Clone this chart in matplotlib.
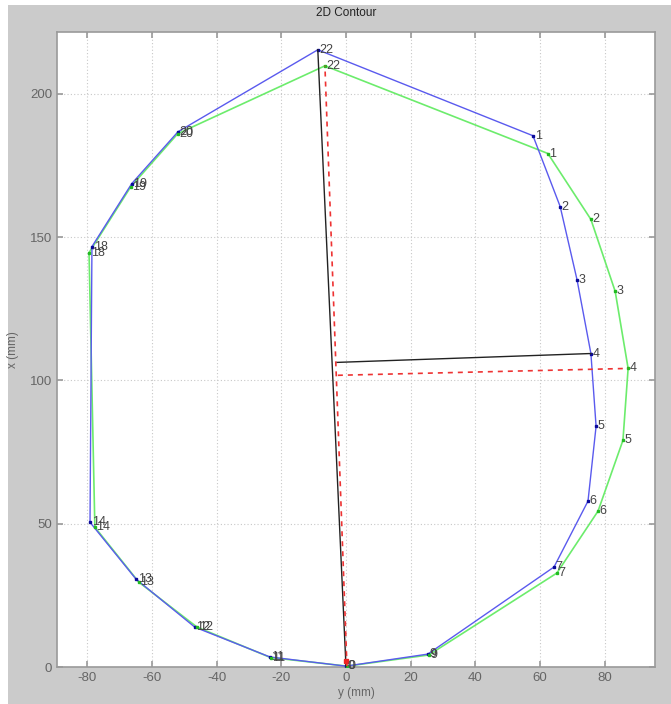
import numpy as np
import matplotlib
matplotlib.use("Agg")
import matplotlib.pyplot as plt

plt.rcParams['font.family'] = ['Liberation Sans', 'DejaVu Sans']
plt.rcParams['axes.unicode_minus'] = False

# contour 1 (blue): horizontal = y (mm), vertical = x (mm)
blue_lbl = ['0', '9', '7', '6', '5', '4', '3', '2', '1', '22', '20', '19', '18', '14', '13', '12', '11']
blue_y = [0.0, 25.3, 64.3, 74.8, 77.3, 75.7, 71.4, 66.2, 57.8, -8.7, -51.9, -66.2, -78.5, -79.1, -64.9, -46.7, -23.5]
blue_x = [0.3, 4.5, 34.9, 57.9, 84.0, 109.4, 135.2, 160.7, 185.4, 215.4, 186.8, 168.7, 146.7, 50.5, 30.7, 13.9, 3.5]

# contour 2 (green)
green_lbl = ['0', '9', '7', '6', '5', '4', '3', '2', '1', '22', '20', '19', '18', '14', '13', '12', '11']
green_y = [0.3, 25.6, 65.2, 77.9, 85.6, 87.2, 83.2, 75.7, 62.4, -6.5, -52.0, -66.5, -79.4, -77.6, -64.0, -46.0, -23.3]
green_x = [0.3, 4.2, 32.8, 54.4, 79.1, 104.2, 131.1, 156.2, 179.2, 209.8, 186.1, 167.6, 144.6, 48.8, 29.6, 13.9, 3.3]

# axes of contour 1 (black) and contour 2 (red dashed)
black_long_y = [0.0, -8.7]
black_long_x = [0.3, 215.4]
black_short_y = [-2.8, 75.7]
black_short_x = [106.3, 109.4]
red_long_y = [0.3, -6.5]
red_long_x = [0.3, 209.8]
red_short_y = [-2.5, 87.2]
red_short_x = [101.8, 104.2]

bg = '#cbcbcb'
fig = plt.figure(figsize=(6.71, 7.04), dpi=100)
fig.patch.set_facecolor('white')
fig.patches.append(plt.Rectangle((8 / 671, 0), 1, 1 - 5 / 704, transform=fig.transFigure,
                                 facecolor=bg, edgecolor='none', zorder=-10))
ax = fig.add_axes([57 / 671, 1 - 667 / 704, (655.3 - 57) / 671, (667 - 32.3) / 704])
ax.set_facecolor('white')

ax.plot(blue_y + blue_y[:1], blue_x + blue_x[:1], color='#5a5aee', lw=1.0, zorder=3)
ax.plot(blue_y, blue_x, ls='none', marker='s', ms=2, color='#0a0a9a', zorder=4)
ax.plot(green_y + green_y[:1], green_x + green_x[:1], color='#6cec6c', lw=1.2, zorder=2)
ax.plot(green_y, green_x, ls='none', marker='s', ms=2, color='#22bb22', zorder=4)

ax.plot(black_long_y, black_long_x, color='#222222', lw=1.0, zorder=5)
ax.plot(black_short_y, black_short_x, color='#222222', lw=1.0, zorder=5)
ax.plot(red_long_y, red_long_x, color='#ee3333', lw=1.2, ls=(0, (3, 3)), zorder=6)
ax.plot(red_short_y, red_short_x, color='#ee3333', lw=1.2, ls=(0, (3, 3)), zorder=6)
ax.plot([0.0], [2.0], ls='none', marker='s', ms=3, color='#ee2222', zorder=7)

for lbl, yy, xx in zip(blue_lbl, blue_y, blue_x):
    ax.text(yy + 0.5, xx, lbl, fontsize=9, color='#444444', va='center', ha='left', zorder=8)
for lbl, yy, xx in zip(green_lbl, green_y, green_x):
    ax.text(yy + 0.5, xx, lbl, fontsize=9, color='#444444', va='center', ha='left', zorder=8)

ax.set_xlim(-89.3, 95.6)
ax.set_ylim(0, 221.5)
ax.set_xticks(np.arange(-80, 81, 20))
ax.set_yticks(np.arange(0, 201, 50))
ax.grid(True, color='#c8c8c8', ls=(0, (1, 2)), lw=0.8)
ax.set_axisbelow(True)
ax.tick_params(direction='in', length=4, colors='#999999', labelcolor='#666666',
               labelsize=9.5, top=True, right=True, width=1.2)
for s in ax.spines.values():
    s.set_color('#9a9a9a')
    s.set_linewidth(1.2)

ax.set_xlabel('y (mm)', fontsize=8.5, color='#666666', labelpad=2)
ax.set_ylabel('x (mm)', fontsize=8.5, color='#666666', labelpad=8)
fig.text(346 / 671, 1 - 13 / 704, '2D Contour', fontsize=8.5, color='#222222', ha='center', va='center')

fig.savefig('out.png', dpi=100, facecolor=fig.get_facecolor())
